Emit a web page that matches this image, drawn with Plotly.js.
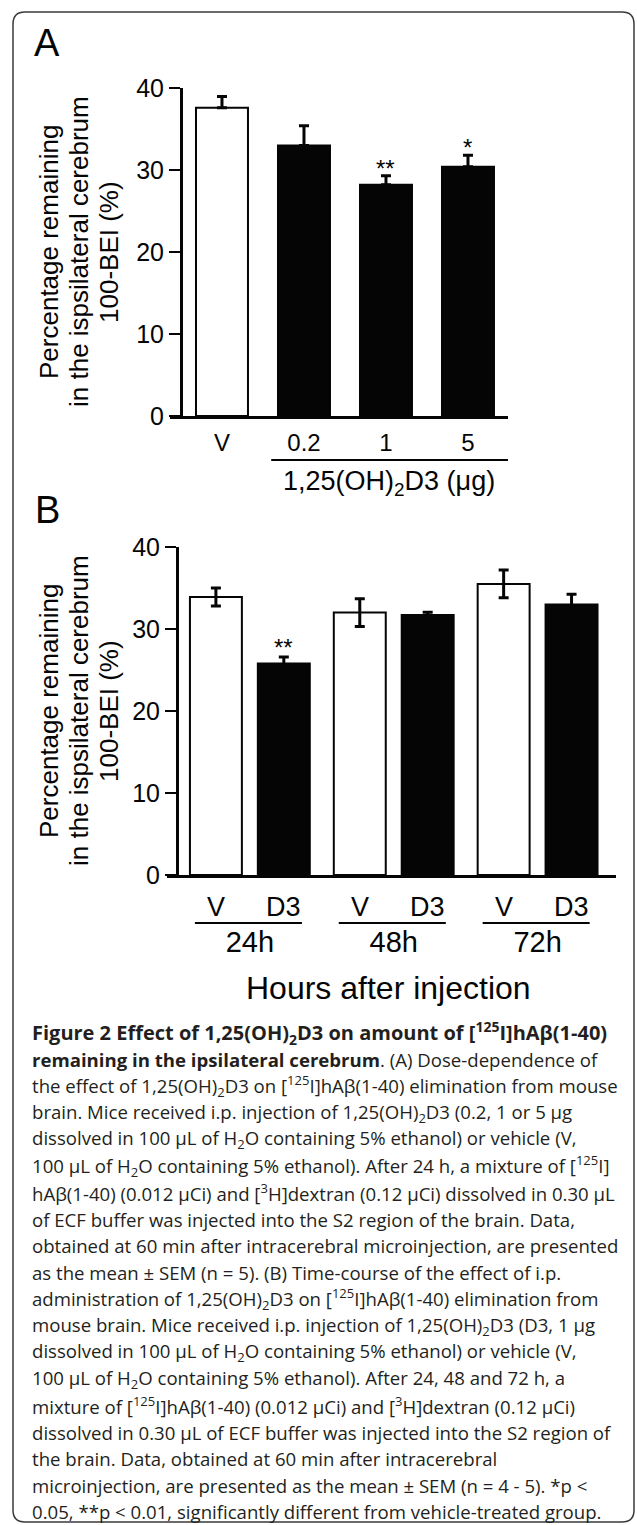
<!DOCTYPE html>
<html><head><meta charset="utf-8">
<script src="https://cdn.plot.ly/plotly-3.0.1.min.js"></script>
<style>html,body{margin:0;padding:0;background:#fff}</style>
</head><body><div id="chart" style="width:637px;height:1525px"></div>
<script>
// ---- Data ----
const doseCategories = ['V', '0.2', '1', '5'];
const doseValues = [37.6, 33.0, 28.2, 30.4];
const doseSem = [1.35, 2.4, 1.1, 1.4];
const doseSig = ['', '', '**', '*'];

const timeGroups = ['24h', '48h', '72h'];
const vehicleValues = [33.9, 32.0, 35.5];
const vehicleSem = [1.1, 1.7, 1.7];
const d3Values = [25.8, 31.7, 33.0];
const d3Sem = [0.8, 0.35, 1.25];
const d3Sig = ['**', '', ''];
const groupMembers = ['V', 'D3'];

const yTicks = [0, 10, 20, 30, 40];
const yTitleLines = ['Percentage remaining', 'in the ispsilateral cerebrum', '100-BEI (%)'];
const doseAxisTitle = '1,25(OH)<sub>2</sub>D3 (μg)';
const timeAxisTitle = 'Hours after injection';

const captionLines = [
  '<b>Figure 2 Effect of 1,25(OH)<sub>2</sub>D3 on amount of [<sup>125</sup>I]hAβ(1-40)</b>',
  '<b>remaining in the ipsilateral cerebrum</b>. (A) Dose-dependence of',
  'the effect of 1,25(OH)<sub>2</sub>D3 on [<sup>125</sup>I]hAβ(1-40) elimination from mouse',
  'brain. Mice received i.p. injection of 1,25(OH)<sub>2</sub>D3 (0.2, 1 or 5 μg',
  'dissolved in 100 μL of H<sub>2</sub>O containing 5% ethanol) or vehicle (V,',
  '100 μL of H<sub>2</sub>O containing 5% ethanol). After 24 h, a mixture of [<sup>125</sup>I]',
  'hAβ(1-40) (0.012 μCi) and [<sup>3</sup>H]dextran (0.12 μCi) dissolved in 0.30 μL',
  'of ECF buffer was injected into the S2 region of the brain. Data,',
  'obtained at 60 min after intracerebral microinjection, are presented',
  'as the mean ± SEM (n = 5). (B) Time-course of the effect of i.p.',
  'administration of 1,25(OH)<sub>2</sub>D3 on [<sup>125</sup>I]hAβ(1-40) elimination from',
  'mouse brain. Mice received i.p. injection of 1,25(OH)<sub>2</sub>D3 (D3, 1 μg',
  'dissolved in 100 μL of H<sub>2</sub>O containing 5% ethanol) or vehicle (V,',
  '100 μL of H<sub>2</sub>O containing 5% ethanol). After 24, 48 and 72 h, a',
  'mixture of [<sup>125</sup>I]hAβ(1-40) (0.012 μCi) and [<sup>3</sup>H]dextran (0.12 μCi)',
  'dissolved in 0.30 μL of ECF buffer was injected into the S2 region of',
  'the brain. Data, obtained at 60 min after intracerebral',
  'microinjection, are presented as the mean ± SEM (n = 4 - 5). *p &lt;',
  '0.05, **p &lt; 0.01, significantly different from vehicle-treated group.'
];

// ---- Layout helpers ----
const W = 637, H = 1525;
const px = v => v / W;
const py = v => 1 - v / H;
const INK = '#050505';
const ARIAL = 'Arial, "Liberation Sans", sans-serif';
const AXW = 2.5;
const barGap = 0.056, barGroupGap = 0.235;

const errStyle = {thickness: 3, width: 5, color: INK};

const traces = [
  {
    type: 'bar', xaxis: 'x', yaxis: 'y',
    x: doseCategories, y: doseValues, width: 0.634,
    marker: {color: doseCategories.map(c => c === 'V' ? '#ffffff' : INK), line: {color: INK, width: 2}},
    error_y: Object.assign({type: 'data', array: doseSem, arrayminus: doseSem.map(() => 0), symmetric: false, visible: true}, errStyle),
    showlegend: false, hoverinfo: 'skip'
  },
  {
    type: 'bar', xaxis: 'x2', yaxis: 'y2', name: 'V',
    x: timeGroups, y: vehicleValues,
    marker: {color: '#ffffff', line: {color: INK, width: 2}},
    error_y: Object.assign({type: 'data', array: vehicleSem, symmetric: true, visible: true}, errStyle),
    showlegend: false, hoverinfo: 'skip'
  },
  {
    type: 'bar', xaxis: 'x2', yaxis: 'y2', name: 'D3',
    x: timeGroups, y: d3Values,
    marker: {color: INK, line: {color: INK, width: 2}},
    error_y: Object.assign({type: 'data', array: d3Sem, symmetric: true, visible: true}, errStyle),
    showlegend: false, hoverinfo: 'skip'
  }
];

const annotations = [];
const shapes = [];

// panel letters
annotations.push({xref: 'paper', yref: 'paper', x: px(47), y: py(43), text: 'A', showarrow: false,
  font: {family: ARIAL, size: 38, color: INK}, xanchor: 'center', yanchor: 'middle'});
annotations.push({xref: 'paper', yref: 'paper', x: px(48), y: py(510), text: 'B', showarrow: false,
  font: {family: ARIAL, size: 38, color: INK}, xanchor: 'center', yanchor: 'middle'});

// y-axis titles (three lines each)
const titleX = [49, 79, 109];
[[252], [711]].forEach(([cy]) => {
  yTitleLines.forEach((t, i) => {
    annotations.push({xref: 'paper', yref: 'paper', x: px(titleX[i]), y: py(cy), text: t, textangle: -90,
      showarrow: false, xanchor: 'center', yanchor: 'middle', font: {family: ARIAL, size: 26, color: INK}});
  });
});

// significance stars (category index positions)
const starFont = {family: ARIAL, size: 24, color: INK};
doseSig.forEach((s, i) => {
  if (!s) return;
  annotations.push({xref: 'x', yref: 'y', x: i, y: doseValues[i] + doseSem[i], text: s,
    showarrow: false, xanchor: 'center', yanchor: 'bottom', yshift: -8, font: starFont});
});
const memberOffset = (1 - barGap) / 4;
d3Sig.forEach((s, i) => {
  if (!s) return;
  annotations.push({xref: 'x2', yref: 'y2', x: i + memberOffset, y: d3Values[i] + d3Sem[i], text: s,
    showarrow: false, xanchor: 'center', yanchor: 'bottom', yshift: -6, font: starFont});
});

// Panel A: dose axis title + underline
annotations.push({xref: 'paper', yref: 'paper', x: px(389), y: py(483), text: doseAxisTitle, showarrow: false,
  xanchor: 'center', yanchor: 'middle', font: {family: ARIAL, size: 27, color: INK}});
shapes.push({type: 'line', xref: 'x', yref: 'paper', x0: 0.6, x1: 3.488, y0: py(460), y1: py(460),
  line: {color: INK, width: 2}});

// Panel B: member labels, underlines
timeGroups.forEach((g, i) => {
  groupMembers.forEach((m, j) => {
    annotations.push({xref: 'x2', yref: 'paper', x: i + (j === 0 ? -memberOffset : memberOffset), y: py(907),
      text: m, showarrow: false, xanchor: 'center', yanchor: 'middle', font: {family: ARIAL, size: 27, color: INK}});
  });
  shapes.push({type: 'line', xref: 'x2', yref: 'paper', x0: i - 0.382, x1: i + 0.362, y0: py(923), y1: py(923),
    line: {color: INK, width: 2}});
});
annotations.push({xref: 'paper', yref: 'paper', x: px(388), y: py(988), text: timeAxisTitle, showarrow: false,
  xanchor: 'center', yanchor: 'middle', font: {family: ARIAL, size: 32, color: INK}});

// caption
captionLines.forEach((t, i) => {
  annotations.push({xref: 'paper', yref: 'paper', x: px(30), y: py(1033 + 26.6 * i), text: t, showarrow: false,
    xanchor: 'left', yanchor: 'middle', align: 'left',
    font: {family: '"Open Sans", sans-serif', size: i === 0 ? 20 : 18.6, color: '#231f20'}});
});

// rounded frame
(function () {
  const x0 = 13, y0 = 12, x1 = 634, y1 = 1522, r = 12;
  const P = (x, y) => `${px(x)},${py(y)}`;
  const d = `M${P(x0 + r, y0)} L${P(x1 - r, y0)} Q${P(x1, y0)} ${P(x1, y0 + r)} L${P(x1, y1 - r)} Q${P(x1, y1)} ${P(x1 - r, y1)} L${P(x0 + r, y1)} Q${P(x0, y1)} ${P(x0, y1 - r)} L${P(x0, y0 + r)} Q${P(x0, y0)} ${P(x0 + r, y0)} Z`;
  shapes.push({type: 'path', xref: 'paper', yref: 'paper', path: d, line: {color: '#3a3a3a', width: 1.5}, fillcolor: 'rgba(0,0,0,0)'});
})();

const yAxisCommon = {
  range: [0, 40], tickvals: yTicks, ticks: 'outside', ticklen: 11, tickwidth: AXW, tickcolor: INK,
  showline: true, linecolor: INK, linewidth: AXW, showgrid: false, zeroline: false,
  tickfont: {family: ARIAL, size: 25, color: INK}, anchor: 'free', fixedrange: true
};

const layout = {
  width: W, height: H,
  margin: {l: 0, r: 0, t: 0, b: 0, pad: 0},
  paper_bgcolor: '#ffffff', plot_bgcolor: 'rgba(0,0,0,0)',
  showlegend: false,
  barmode: 'group', bargap: barGap, bargroupgap: barGroupGap,
  xaxis: {
    domain: [px(170), px(508)], anchor: 'y', type: 'category', range: [-0.634, 3.488],
    showline: true, linecolor: INK, linewidth: AXW, ticks: '', showgrid: false, zeroline: false,
    tickfont: {family: ARIAL, size: 24, color: INK}, ticklabelstandoff: 4, fixedrange: true
  },
  yaxis: Object.assign({}, yAxisCommon, {domain: [py(416), py(88)], position: px(181)}),
  xaxis2: {
    domain: [px(167), px(616)], anchor: 'y2', type: 'category', range: [-0.576, 2.545],
    showline: true, linecolor: INK, linewidth: AXW, ticks: '', showgrid: false, zeroline: false,
    tickfont: {family: ARIAL, size: 29, color: INK}, ticklabelstandoff: 40, fixedrange: true
  },
  yaxis2: Object.assign({}, yAxisCommon, {domain: [py(875), py(547)], position: px(177)}),
  annotations: annotations,
  shapes: shapes
};

Plotly.newPlot('chart', traces, layout, {staticPlot: true, displayModeBar: false});
</script>
</body></html>
